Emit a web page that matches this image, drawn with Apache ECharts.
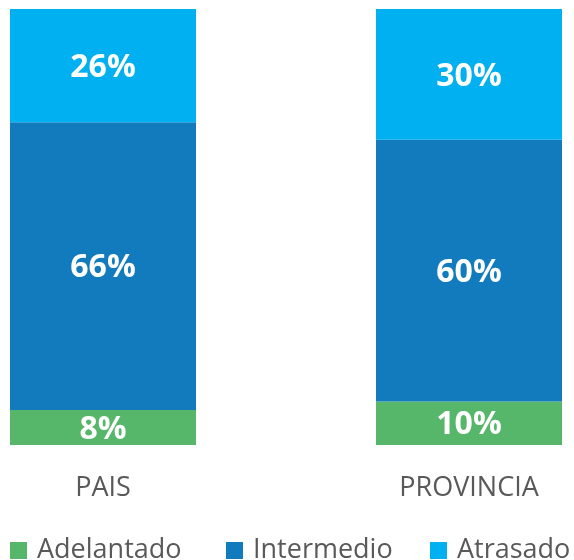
<!DOCTYPE html>
<html>
<head>
<meta charset="utf-8">
<script src="https://cdn.jsdelivr.net/npm/echarts@6/dist/echarts.min.js"></script>
<style>html,body{margin:0;padding:0;background:#fff}#c{width:574px;height:560px}</style>
</head>
<body>
<div id="c"></div>
<script>
const categories = ['PAIS', 'PROVINCIA'];
const seriesNames = ['Adelantado', 'Intermedio', 'Atrasado'];
const adelantado = [8, 10];
const intermedio = [66, 60];
const atrasado = [26, 30];
const colors = ['#56B76B', '#117BBE', '#00B0F0'];

const chart = echarts.init(document.getElementById('c'));
const font = '"Open Sans", "Liberation Sans", sans-serif';
const mk = (name, data, color) => ({
  name, type: 'bar', stack: 'total', data, barWidth: 186,
  itemStyle: { color },
  label: { show: true, position: 'inside', offset: [0, 2], formatter: p => p.value + '%', color: '#fff', fontSize: 32, fontWeight: 'bold', fontFamily: font }
});
const legendLefts = [10, 226, 430];
chart.setOption({
  animation: false,
  textStyle: { fontFamily: font },
  grid: { left: 103, right: 105, top: 9, bottom: 115, containLabel: false },
  xAxis: {
    type: 'category', data: categories, boundaryGap: false,
    axisLine: { show: false }, axisTick: { show: false },
    axisLabel: { color: '#595959', fontSize: 27, margin: 30, fontFamily: font }
  },
  yAxis: { type: 'value', min: 0, max: 100, show: false },
  legend: seriesNames.map((n, i) => ({
    data: [n], left: legendLefts[i], top: 537, itemWidth: 17, itemHeight: 17, icon: 'rect', itemGap: 0,
    padding: 0, height: 32,
    textStyle: { color: '#595959', fontSize: 27, fontFamily: font, padding: [0, 0, 0, 5] }
  })),
  series: [
    mk(seriesNames[0], adelantado, colors[0]),
    mk(seriesNames[1], intermedio, colors[1]),
    mk(seriesNames[2], atrasado, colors[2])
  ]
});
</script>
</body>
</html>
